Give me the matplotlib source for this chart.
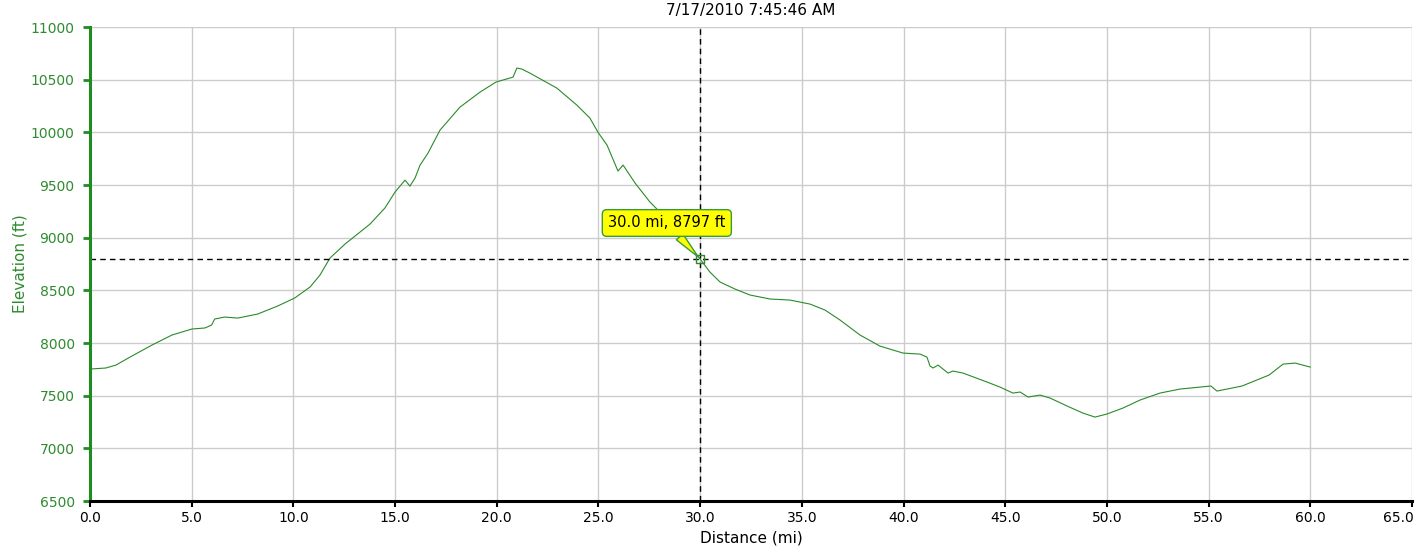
import matplotlib
matplotlib.use('Agg')
import matplotlib.pyplot as plt
from matplotlib.ticker import FuncFormatter, MultipleLocator

TITLE = '7/17/2010 7:45:46 AM'
X_LABEL = 'Distance (mi)'
Y_LABEL = 'Elevation (ft)'

# elevation profile
distance_mi = [0.0, 0.78, 1.28, 1.97, 3.05, 4.03, 5.01, 5.65, 5.98, 6.13, 6.62, 7.26,
               8.24, 9.22, 10.06, 10.82, 11.31, 11.80, 12.54, 13.77, 14.50, 15.00,
               15.49, 15.73, 15.98, 16.23, 16.62, 17.21, 18.19, 19.18, 19.96, 20.80,
               20.99, 21.24, 21.63, 22.96, 23.94, 24.58, 24.98, 25.42, 25.96, 26.21,
               26.80, 27.53, 28.17, 29.01, 30.0, 30.48, 30.98, 31.71, 32.45, 33.44,
               34.42, 35.40, 36.14, 36.88, 37.86, 38.84, 39.97, 40.81, 41.15, 41.30,
               41.45, 41.70, 41.94, 42.19, 42.43, 42.92, 44.10, 44.74, 45.38, 45.73,
               46.12, 46.71, 47.20, 48.04, 48.82, 49.41, 50.00, 50.79, 51.63, 52.61,
               53.59, 54.58, 55.11, 55.41, 56.64, 57.97, 58.66, 59.25, 59.99]
elevation_ft = [7753, 7763, 7791, 7867, 7981, 8076, 8133, 8143, 8171, 8228, 8247, 8237,
                8275, 8351, 8427, 8532, 8646, 8807, 8940, 9130, 9282, 9434,
                9547, 9490, 9566, 9690, 9804, 10022, 10240, 10383, 10478, 10525,
                10611, 10601, 10563, 10420, 10259, 10136, 10000, 9880, 9633, 9690,
                9519, 9339, 9215, 9035, 8797, 8674, 8579, 8513, 8456, 8418,
                8408, 8370, 8313, 8218, 8076, 7971, 7905, 7895, 7867, 7782,
                7763, 7791, 7753, 7715, 7734, 7715, 7630, 7582, 7525, 7535,
                7487, 7506, 7478, 7402, 7335, 7297, 7326, 7383, 7459, 7525,
                7563, 7582, 7592, 7544, 7592, 7696, 7800, 7810, 7772]

cursor_mi = 30.0
cursor_ft = 8797

x_ticks = [0, 65, 5]
y_ticks = [6500, 11000, 500]

GREEN = '#2a8a2a'
TICK_FS = 10
LABEL_FS = 11

fig = plt.figure(figsize=(14.17, 5.53), dpi=100)
ax = fig.add_axes([0.0635, 0.094, 0.933, 0.857])

ax.plot(distance_mi, elevation_ft, color=GREEN, linewidth=0.8)

ax.set_xlim(x_ticks[0], x_ticks[1])
ax.set_ylim(y_ticks[0], y_ticks[1])
ax.xaxis.set_major_locator(MultipleLocator(x_ticks[2]))
ax.yaxis.set_major_locator(MultipleLocator(y_ticks[2]))
# last label sits at the right edge, drawn separately right-aligned
ax.xaxis.set_major_formatter(FuncFormatter(lambda v, p: '' if v >= x_ticks[1] else f'{v:.1f}'))
ax.annotate(f'{x_ticks[1]:.1f}', xy=(x_ticks[1], 0), xycoords=ax.get_xaxis_transform(),
            xytext=(1, -7), textcoords='offset points', ha='right', va='top',
            fontsize=TICK_FS, annotation_clip=False)
ax.grid(True, color='#cccccc', linewidth=1)
ax.set_axisbelow(True)

for s in ['top', 'right']:
    ax.spines[s].set_visible(False)
ax.spines['left'].set_color('#1e8c1e')
ax.spines['left'].set_linewidth(2.2)
ax.spines['bottom'].set_color('black')
ax.spines['bottom'].set_linewidth(2.2)
ax.tick_params(axis='y', colors='#1e8c1e', labelcolor='#2e8b2e', length=5, width=2,
               labelsize=TICK_FS, pad=6)
ax.tick_params(axis='x', colors='black', length=4, width=1.5, labelsize=TICK_FS, pad=3)

ax.set_xlabel(X_LABEL, fontsize=LABEL_FS, labelpad=4)
ax.set_ylabel(Y_LABEL, fontsize=LABEL_FS, color='#2e8b2e', labelpad=2)
ax.set_title(TITLE, fontsize=LABEL_FS, pad=9)

# crosshair + tooltip
ax.axvline(cursor_mi, color='black', linestyle=(0, (4, 3)), linewidth=1)
ax.axhline(cursor_ft, color='black', linestyle=(0, (4, 3)), linewidth=1)
ax.plot([cursor_mi], [cursor_ft], marker='s', markersize=6, markerfacecolor='none',
        markeredgecolor=GREEN, markeredgewidth=1)
ax.annotate(f'{cursor_mi:.1f} mi, {cursor_ft} ft', xy=(cursor_mi, cursor_ft),
            xytext=(-24, 26), textcoords='offset points', ha='center', va='center',
            fontsize=10.5,
            bbox=dict(boxstyle='round,pad=0.4,rounding_size=0.3', fc='#ffff00', ec='#3a9a3a', lw=1),
            arrowprops=dict(arrowstyle='wedge,tail_width=0.6', fc='#ffff00', ec='#3a9a3a',
                            lw=1, shrinkA=0, shrinkB=2))

fig.savefig('out.png', dpi=100)
